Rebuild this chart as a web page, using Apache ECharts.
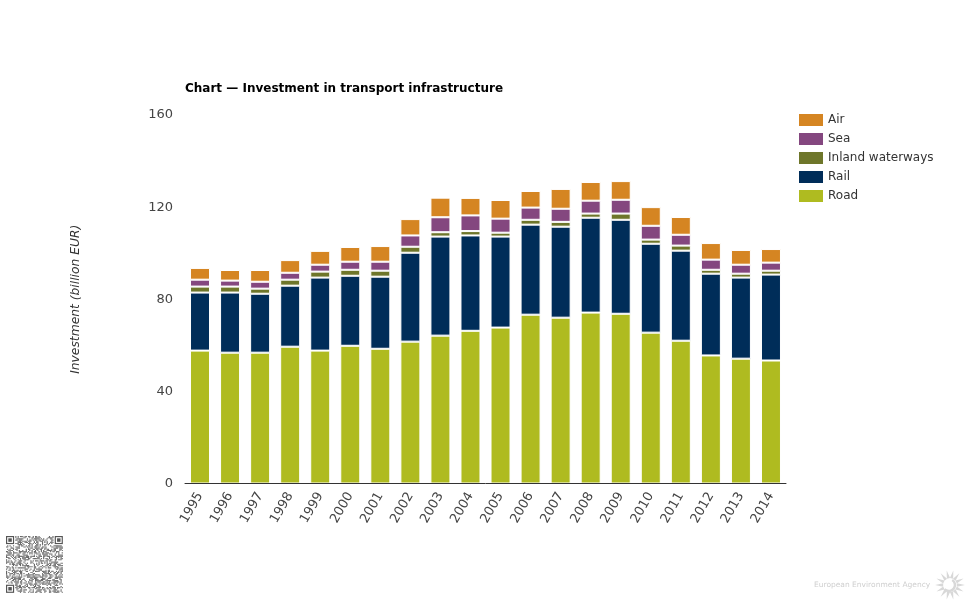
<!DOCTYPE html>
<html>
<head>
<meta charset="utf-8">
<title>Investment in transport infrastructure</title>
<style>html,body{margin:0;padding:0;background:#fff}#chart{width:975px;height:600px}</style>
<script src="https://cdn.jsdelivr.net/npm/echarts@6/dist/echarts.min.js"></script>
</head>
<body>
<div id="chart"></div>
<script>
// values, billion EUR
var years = ['1995','1996','1997','1998','1999','2000','2001','2002','2003','2004','2005','2006','2007','2008','2009','2010','2011','2012','2013','2014'];
var road = [57.7,56.8,56.8,59.4,57.7,59.8,58.5,61.6,64.2,66.3,67.7,73.3,72,74.2,73.7,65.5,62,55.6,54.2,53.4];
var rail = [25.2,26.1,25.6,26.5,31.7,30.4,31.3,38.6,43,41.4,39.5,39.1,39.5,41.2,40.8,38.6,39.1,35.5,35.2,37.3];
var inland = [2.6,2.6,2.2,2.6,2.6,2.6,2.6,2.6,1.9,1.9,1.7,2.1,2.1,1.8,2.7,1.8,2.2,1.7,1.7,1.7];
var sea = [3,2.6,3,3,3,3.5,3.9,4.9,6.5,6.8,6.1,5.3,5.7,5.6,6,6,4.7,4.4,3.9,3.5];
var air = [5.1,4.6,5.1,5.5,6,6.4,6.8,7.1,8.5,7.6,8.1,7.2,8.6,8.1,8.1,8.1,7.7,7.2,6.4,5.9];
var yTicks = [0,40,80,120,160];

var font = '"DejaVu Sans", sans-serif';
var myChart = echarts.init(document.getElementById('chart'));

function bar(name, data, color) {
    return {
        name: name,
        type: 'bar',
        stack: 'total',
        barWidth: 20,
        data: data,
        itemStyle: { color: color, borderColor: '#fff', borderWidth: 1 }
    };
}

// QR-like corner stamp, only a texture
var qrRowsA = ['1011001110100101','0110100011011001','1100111001010110','0011010110110010','1010011100101101','0101101001110100','1110010110001011'];
var qrRowsB = ['1001101011100','0111001010011','1010110001101','0100111010110','1101000110101'];
function qrCode(x0, y0, n, s) {
    var out = [];
    function cell(c, r, w, h, fill) {
        out.push({ type: 'rect', silent: true, shape: { x: x0 + c * s, y: y0 + r * s, width: w * s, height: h * s }, style: { fill: fill } });
    }
    for (var r = 0; r < n; r++) {
        for (var c = 0; c < n; c++) {
            var inFinder = (r < 8 && c < 8) || (r < 8 && c >= n - 8) || (r >= n - 8 && c < 8);
            var a = qrRowsA[r % qrRowsA.length].charAt((c + r * 3) % 16);
            var b = qrRowsB[(r * 2 + (c >> 2)) % qrRowsB.length].charAt((c * 5 + r) % 13);
            if (!inFinder && a !== b) cell(c, r, 1, 1, '#666');
        }
    }
    [[0, 0], [n - 7, 0], [0, n - 7]].forEach(function (p) {
        cell(p[0], p[1], 7, 7, '#555');
        cell(p[0] + 1, p[1] + 1, 5, 5, '#fff');
        cell(p[0] + 2, p[1] + 2, 3, 3, '#555');
    });
    return out;
}

// agency sun logo
function sunRays(cx, cy) {
    var out = [];
    for (var i = 0; i < 14; i++) {
        var a = i / 14 * Math.PI * 2;
        var d = 0.24;
        out.push({
            type: 'polygon', silent: true,
            shape: { points: [
                [cx + 7 * Math.cos(a - d), cy + 7 * Math.sin(a - d)],
                [cx + 15 * Math.cos(a), cy + 15 * Math.sin(a)],
                [cx + 7 * Math.cos(a + d), cy + 7 * Math.sin(a + d)]
            ] },
            style: { fill: '#d8d8d8' }
        });
    }
    out.push({ type: 'arc', silent: true, shape: { cx: cx - 1, cy: cy, r: 6, startAngle: -1, endAngle: 2.4 }, style: { stroke: '#d8d8d8', lineWidth: 2.5, fill: 'none' } });
    return out;
}

var option = {
    animation: false,
    backgroundColor: '#fff',
    textStyle: { fontFamily: font },
    title: {
        text: 'Chart — Investment in transport infrastructure',
        left: 185,
        top: 83,
        padding: 0,
        textStyle: { fontFamily: font, fontSize: 12, fontWeight: 'bold', color: '#000' }
    },
    legend: {
        data: ['Air', 'Sea', 'Inland waterways', 'Rail', 'Road'],
        orient: 'vertical',
        icon: 'rect',
        left: 799,
        top: 114,
        padding: 0,
        itemWidth: 24,
        itemHeight: 12,
        itemGap: 7,
        selectedMode: false,
        itemStyle: { borderWidth: 0 },
        textStyle: { fontFamily: font, fontSize: 12, color: '#333' }
    },
    grid: { left: 185, top: 115, width: 601, height: 368.5 },
    xAxis: {
        type: 'category',
        data: years,
        z: 5,
        axisLine: { lineStyle: { color: '#333', width: 1 } },
        axisTick: { show: false },
        axisLabel: { rotate: 60, fontFamily: font, fontSize: 13, color: '#444', margin: 10, interval: 0 }
    },
    yAxis: {
        type: 'value',
        min: yTicks[0],
        max: yTicks[yTicks.length - 1],
        interval: 40,
        name: 'Investment (billion EUR)',
        nameLocation: 'middle',
        nameGap: 103,
        nameTextStyle: { fontFamily: font, fontSize: 12.3, fontStyle: 'italic', color: '#333' },
        axisLine: { show: false },
        axisTick: { show: false },
        splitLine: { show: false },
        axisLabel: { fontFamily: font, fontSize: 13, color: '#444', margin: 12, padding: [2, 0, 0, 0] }
    },
    series: [
        bar('Road', road, '#afbb20'),
        bar('Rail', rail, '#002d59'),
        bar('Inland waterways', inland, '#6e762a'),
        bar('Sea', sea, '#84477f'),
        bar('Air', air, '#d58522')
    ],
    graphic: [
        { type: 'group', children: qrCode(6, 536, 49, 1.16) },
        { type: 'text', silent: true, left: 814, top: 581, style: { text: 'European Environment Agency', fill: '#cfcfcf', font: '7.5px ' + font } },
        { type: 'group', children: sunRays(950, 585) }
    ]
};
myChart.setOption(option);
</script>
</body>
</html>
